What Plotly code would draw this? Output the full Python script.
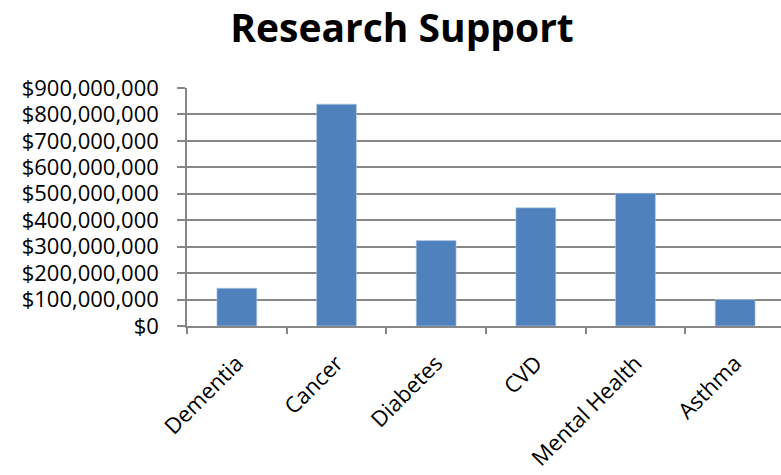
import plotly.graph_objects as go

# Research funding by condition
categories = ["Dementia", "Cancer", "Diabetes", "CVD", "Mental Health", "Asthma"]
funding = [143_000_000, 839_000_000, 323_000_000, 447_000_000, 502_000_000, 100_000_000]
y_ticks = list(range(0, 900_000_001, 100_000_000))
y_tick_labels = ["$0"] + [f"${v:,}" for v in y_ticks[1:]]

FONT = "Open Sans"
GRID = "#878787"

fig = go.Figure(
    go.Bar(
        x=categories,
        y=funding,
        marker=dict(color="#4F81BD", line=dict(color="#B9CDE5", width=0.6)),
        width=0.4,
    )
)

fig.update_layout(
    width=781,
    height=475,
    margin=dict(l=187, r=0, t=88, b=149),
    paper_bgcolor="white",
    plot_bgcolor="white",
    showlegend=False,
    title=dict(
        text="<b>Research Support</b>",
        x=402 / 781,
        xanchor="center",
        y=1 - 28 / 475,
        yanchor="middle",
        font=dict(family=FONT, size=39, color="black"),
    ),
    font=dict(family=FONT, color="black"),
)

fig.update_xaxes(
    range=[-0.5, 5.46],
    showgrid=False,
    showline=True,
    linecolor=GRID,
    linewidth=1.5,
    ticks="outside",
    tickson="boundaries",
    ticklen=6,
    tickwidth=1.5,
    tickcolor=GRID,
    tickangle=-45,
    ticklabelstandoff=14,
    tickfont=dict(family=FONT, size=22, color="black"),
)

fig.update_yaxes(
    range=[0, 900_000_000],
    tickvals=y_ticks,
    ticktext=y_tick_labels,
    showgrid=True,
    gridcolor=GRID,
    gridwidth=1.5,
    zeroline=False,
    showline=True,
    linecolor=GRID,
    linewidth=1.5,
    ticks="outside",
    ticklen=8,
    tickwidth=1.5,
    tickcolor=GRID,
    ticklabelstandoff=14,
    tickfont=dict(family=FONT, size=22, color="black"),
)

fig.write_html("out.html")
